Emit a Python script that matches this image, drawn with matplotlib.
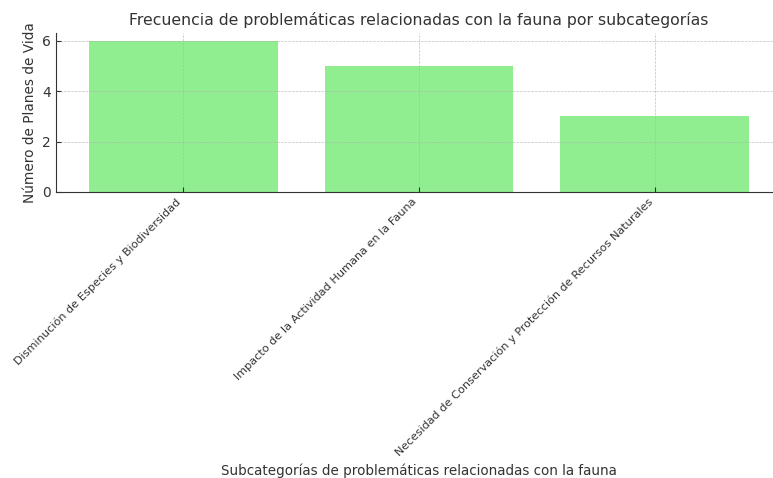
import matplotlib
matplotlib.use("Agg")
import matplotlib.pyplot as plt

categories = ["Disminución de Especies y Biodiversidad",
              "Impacto de la Actividad Humana en la Fauna",
              "Necesidad de Conservación y Protección de Recursos Naturales"]
counts = [6, 5, 3]

plt.rcParams.update({"font.family": "DejaVu Sans"})

fig = plt.figure(figsize=(7.73, 4.78), dpi=100)
# axes runs slightly past the right edge of the figure, as in the original crop
ax = fig.add_axes([56 / 773, 1 - 192 / 478, 726 / 773, 159 / 478])

ax.bar(range(len(categories)), counts, width=0.8, color="#90ee90", zorder=1)
ax.set_xticks(range(len(categories)))
ax.set_xticklabels(categories, rotation=45, ha="right", fontsize=8.15, color="#333333")
ax.set_xlim(-0.54, 2.54)
ax.set_ylim(0, 6.3)
ax.set_yticks([0, 2, 4, 6])
ax.tick_params(axis="y", labelsize=10, direction="in", colors="#333333")
ax.tick_params(axis="x", direction="in", colors="#333333")

ax.set_title("Frecuencia de problemáticas relacionadas con la fauna por subcategorías",
             fontsize=11.35, color="#333333", pad=6)
ax.set_xlabel("Subcategorías de problemáticas relacionadas con la fauna", fontsize=9.75, color="#333333")
ax.set_ylabel("Número de Planes de Vida", fontsize=9.8, color="#333333")

ax.grid(True, linestyle="--", linewidth=0.5, color="#b0b0b0", alpha=0.8, zorder=3)
ax.set_axisbelow(False)
ax.spines["top"].set_visible(False)
ax.spines["right"].set_visible(False)
for s in ["left", "bottom"]:
    ax.spines[s].set_color("#333333")

fig.savefig("out.png", dpi=100)
